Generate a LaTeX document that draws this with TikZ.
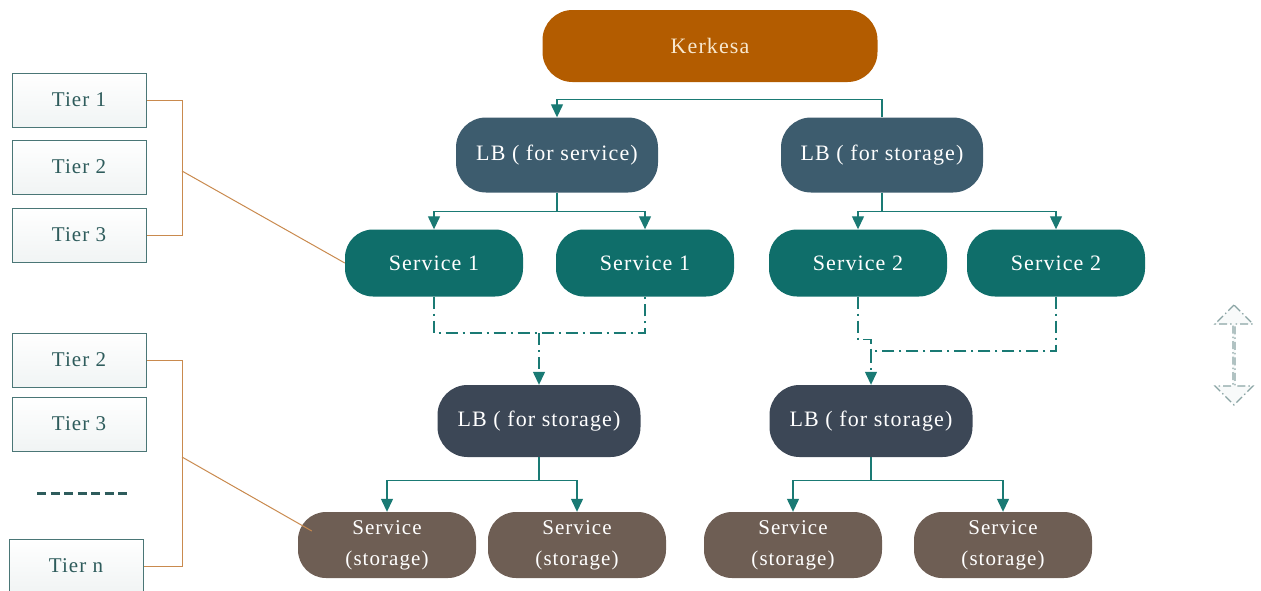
\documentclass[tikz,border=0pt]{standalone}
\usepackage{fontspec}
\setmainfont{Liberation Serif}[LetterSpace=5]
\usetikzlibrary{arrows.meta,calc,shapes.arrows}
\definecolor{reqfill}{HTML}{B35C00}
\definecolor{reqtext}{HTML}{F8E8CF}
\definecolor{lbtop}{HTML}{3D5C6E}
\definecolor{svcfill}{HTML}{0F6E6A}
\definecolor{lbbot}{HTML}{3C4756}
\definecolor{stofill}{HTML}{6E5E54}
\definecolor{linkcol}{HTML}{1A7A74}
\definecolor{tierline}{HTML}{4A7676}
\definecolor{tiertext}{HTML}{2E5C5C}
\definecolor{bracecol}{HTML}{C98A4E}
\definecolor{iconcol}{HTML}{8AA4A4}
\tikzset{
  x=1pt, y=-1pt,
  pill/.style={rectangle, rounded corners=30pt, inner sep=0pt, text=white,
    font=\fontsize{22}{24}\selectfont, align=center},
  reqbox/.style={pill, fill=reqfill, text=reqtext, minimum width=335pt, minimum height=72pt},
  lbsvc/.style={pill, fill=lbtop, minimum width=202pt, minimum height=75pt},
  svcbox/.style={pill, fill=svcfill, minimum width=178pt, minimum height=67pt, rounded corners=28pt},
  lbsto/.style={pill, fill=lbbot, minimum width=203pt, minimum height=72pt},
  stobox/.style={pill, fill=stofill, minimum width=178pt, minimum height=66pt, rounded corners=28pt,
    font=\fontsize{21}{31}\selectfont},
  tierbox/.style={rectangle, draw=tierline, line width=1pt, top color=white, bottom color=tierline!8,
    minimum width=134pt, minimum height=54pt, inner sep=0pt, text=tiertext,
    font=\fontsize{21}{24}\selectfont},
  link/.style={draw=linkcol, line width=1.3pt},
  linkarrow/.style={link, -{Triangle[width=12pt,length=13pt]}},
  dashlink/.style={link, dash pattern=on 12pt off 5pt on 2pt off 5pt},
  brace/.style={draw=bracecol, line width=1pt},
}
\begin{document}
\begin{tikzpicture}
\useasboundingbox (0,0) rectangle (1261,590);

% top request and first-level balancers
\node[reqbox] (req) at (710,46) {Kerkesa};
\node[lbsvc] (lbs) at (557,155) {LB ( for service)};
\node[lbsvc] (lbt) at (882,155) {LB ( for storage)};

% service tier
\node[svcbox] (s1a) at (434,263) {Service 1};
\node[svcbox] (s1b) at (645,263) {Service 1};
\node[svcbox] (s2a) at (858,263) {Service 2};
\node[svcbox] (s2b) at (1056,263) {Service 2};

% second-level balancers
\node[lbsto] (lbl) at (539,421) {LB ( for storage)};
\node[lbsto] (lbr) at (871,421) {LB ( for storage)};

% storage tier
\node[stobox] (st1) at (387,545) {Service\\(storage)};
\node[stobox] (st2) at (577,545) {Service\\(storage)};
\node[stobox] (st3) at (793,545) {Service\\(storage)};
\node[stobox] (st4) at (1003,545) {Service\\(storage)};

% tier legend
\node[tierbox] (t1) at (79,100) {Tier 1};
\node[tierbox] (t2) at (79,167) {Tier 2};
\node[tierbox] (t3) at (79,235) {Tier 3};
\node[tierbox] (u2) at (79,360) {Tier 2};
\node[tierbox] (u3) at (79,424) {Tier 3};
\node[tierbox] (un) at (76,566) {Tier n};
\draw[draw=tiertext, line width=3pt, dash pattern=on 9pt off 4.5pt] (37,493) -- (131,493);

% links from the balancers
\draw[linkarrow] (lbt.north) -- ++(0,-18) -| (lbs.north);
\draw[linkarrow] (lbs.south) -- ++(0,19) -| (s1a.north);
\draw[linkarrow] (lbs.south) -- ++(0,19) -| (s1b.north);
\draw[linkarrow] (lbt.south) -- ++(0,19) -| (s2a.north);
\draw[linkarrow] (lbt.south) -- ++(0,19) -| (s2b.north);

% dash-dot links from services to the storage balancers
\coordinate (jl) at (539,333);
\draw[dashlink] (s1a.south) |- (jl) -| (s1b.south);
\draw[dashlink, -{Triangle[width=12pt,length=13pt]}] (jl) -- (lbl.north);
\coordinate (jr) at (871,351);
\draw[dashlink] (s2b.south) |- (jr);
\draw[dashlink] (s2a.south) -- ++(0,43) -| (jr);
\draw[dashlink, -{Triangle[width=12pt,length=13pt]}] (jr) -- (lbr.north);

% links to storage services
\draw[linkarrow] (lbl.south) -- ++(0,23) -| (st1.north);
\draw[linkarrow] (lbl.south) -- ++(0,23) -| (st2.north);
\draw[linkarrow] (lbr.south) -- ++(0,23) -| (st3.north);
\draw[linkarrow] (lbr.south) -- ++(0,23) -| (st4.north);

% legend brackets
\draw[brace] (t1.east) -- ++(36,0) |- (t3.east);
\coordinate (b1) at (182,171);
\draw[brace] (b1) -- (s1a.west);
\draw[brace] (u2.east) -- ++(36,0) |- (un.east);
\coordinate (b2) at (182,457);
\draw[brace] (b2) -- ($(st1.west)+(14,-14)$);

% scale marker
\node[double arrow, rotate=90, draw=iconcol, fill=iconcol!6, line width=1.2pt,
  dash pattern=on 8pt off 3pt on 1.5pt off 3pt,
  minimum height=100pt, minimum width=38pt, double arrow head extend=10pt, inner sep=0pt]
  (mark) at (1234,355) {};
\end{tikzpicture}
\end{document}
